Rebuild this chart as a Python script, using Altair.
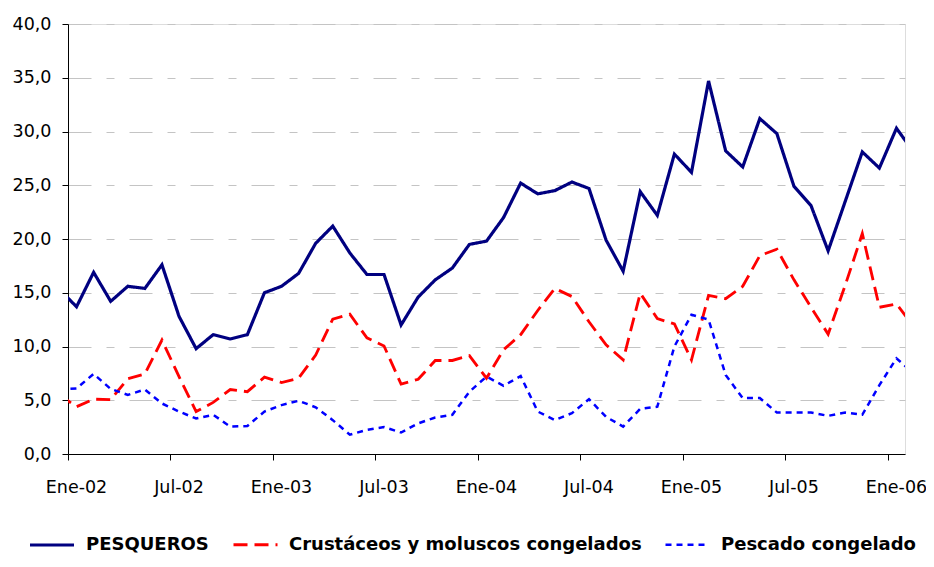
import altair as alt
import pandas as pd

# Monthly series, Dec-2001 .. Feb-2006 (first and last are partially clipped at the plot edges)
pesqueros = [15.3, 13.7, 16.9, 14.2, 15.6, 15.4, 17.6, 12.8, 9.8, 11.1, 10.7, 11.1,
             15.0, 15.6, 16.8, 19.6, 21.2, 18.7, 16.7, 16.7, 12.0, 14.6, 16.2, 17.3,
             19.5, 19.8, 22.0, 25.2, 24.2, 24.5, 25.3, 24.7, 19.9, 17.0, 24.4, 22.2,
             27.9, 26.2, 34.7, 28.2, 26.7, 31.2, 29.8, 24.9, 23.1, 18.9, 23.5, 28.1,
             26.6, 30.3, 28.1]
crustaceos = [5.5, 4.4, 5.1, 5.05, 7.0, 7.45, 10.6, 7.2, 3.95, 4.8, 6.0, 5.8,
              7.15, 6.65, 7.05, 9.2, 12.55, 13.0, 10.8, 10.05, 6.5, 6.95, 8.7, 8.7,
              9.15, 7.05, 9.7, 11.1, 13.35, 15.4, 14.65, 12.3, 10.15, 8.75, 14.95, 12.6,
              12.1, 8.75, 14.75, 14.45, 15.6, 18.45, 19.05, 16.2, 13.65, 11.15, 15.7, 20.5,
              13.65, 13.95, 11.9]
pescado = [6.0, 6.1, 7.45, 6.05, 5.5, 6.0, 4.7, 3.95, 3.3, 3.65, 2.55, 2.6,
           3.95, 4.55, 4.95, 4.35, 3.15, 1.8, 2.25, 2.5, 2.0, 2.85, 3.4, 3.65,
           5.8, 7.2, 6.35, 7.25, 3.95, 3.15, 3.8, 5.1, 3.45, 2.55, 4.2, 4.4,
           10.0, 12.95, 12.5, 7.35, 5.2, 5.2, 3.85, 3.85, 3.85, 3.55, 3.85, 3.65,
           6.4, 8.9, 7.5]

series_names = ["PESQUEROS", "Crustáceos y moluscos congelados", "Pescado congelado"]
series_colors = ["#000080", "#FF0000", "#0000FF"]
series_dashes = [[1, 0], [14, 7], [6, 5]]
series_widths = [3.2, 2.5, 2.5]
tick_months = [0, 6, 12, 18, 24, 30, 36, 42, 48]
y_ticks = [0, 5, 10, 15, 20, 25, 30, 35, 40]

rows = []
for name, vals in zip(series_names, [pesqueros, crustaceos, pescado]):
    for i, v in enumerate(vals):
        # month index relative to Jan-2002, placed at mid-month
        rows.append({"serie": name, "mes": (i - 1) + 0.5, "valor": v})
df = pd.DataFrame(rows)

FONT = "DejaVu Sans"

legend = alt.Legend(
    title=None,
    orient="none",
    legendX=-40,
    legendY=497,
    direction="horizontal",
    symbolType="stroke",
    symbolSize=1936,
    labelFont=FONT,
    labelFontWeight="bold",
    labelFontSize=18,
    labelColor="black",
    labelLimit=600,
    labelOffset=10,
    columnPadding=18,
)

chart = alt.Chart(df).mark_line(clip=True).encode(
    x=alt.X(
        "mes:Q",
        scale=alt.Scale(domain=[0, 49], nice=False, zero=False),
        axis=alt.Axis(
            values=tick_months,
            labelExpr="(datum.value % 12 == 0 ? 'Ene-' : 'Jul-') + '0' + (2 + floor(datum.value / 12))",
            title=None,
            grid=False,
            tickSize=6,
            tickColor="black",
            domainColor="black",
            labelOffset=8,
            labelPadding=18,
            labelFont=FONT,
            labelFontSize=17.5,
            labelColor="black",
            labelFlush=False,
        ),
    ),
    y=alt.Y(
        "valor:Q",
        scale=alt.Scale(domain=[0, 40], nice=False),
        axis=alt.Axis(
            values=y_ticks,
            labelExpr="replace(format(datum.value, '.1f'), '.', ',')",
            title=None,
            grid=True,
            gridColor="#c4c4c4",
            gridDash=[23, 15, 8, 15],
            gridWidth=1,
            tickSize=6,
            tickColor="black",
            domainColor="black",
            labelPadding=11,
            labelFont=FONT,
            labelFontSize=17.5,
            labelColor="black",
        ),
    ),
    color=alt.Color("serie:N", scale=alt.Scale(domain=series_names, range=series_colors), legend=legend),
    strokeDash=alt.StrokeDash("serie:N", scale=alt.Scale(domain=series_names, range=series_dashes), legend=legend),
    strokeWidth=alt.StrokeWidth("serie:N", scale=alt.Scale(domain=series_names, range=series_widths), legend=legend),
).properties(
    width=837,
    height=430,
    autosize=alt.AutoSizeParams(type="none"),
    padding={"left": 60, "top": 16, "right": 21, "bottom": 105},
).configure_view(
    stroke="#b0b0b0",
    strokeWidth=1,
).configure(background="white")

chart.save("out.html", embed_options={"renderer": "svg", "actions": False})
